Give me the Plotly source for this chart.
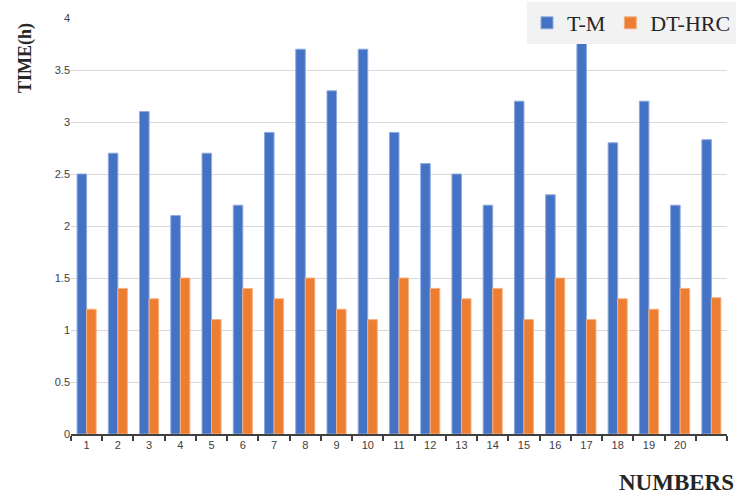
import plotly.graph_objects as go

numbers = list(range(1, 22))
tick_labels = [str(i) for i in range(1, 21)]
tm = [2.5, 2.7, 3.1, 2.1, 2.7, 2.2, 2.9, 3.7, 3.3, 3.7, 2.9, 2.6, 2.5, 2.2, 3.2, 2.3, 3.8, 2.8, 3.2, 2.2, 2.83]
dthrc = [1.2, 1.4, 1.3, 1.5, 1.1, 1.4, 1.3, 1.5, 1.2, 1.1, 1.5, 1.4, 1.3, 1.4, 1.1, 1.5, 1.1, 1.3, 1.2, 1.4, 1.31]

fig = go.Figure()
fig.add_trace(go.Bar(x=numbers, y=tm, name="T-M",
                     marker=dict(color="#4472C4", line=dict(color="#8eaadb", width=1))))
fig.add_trace(go.Bar(x=numbers, y=dthrc, name="DT-HRC",
                     marker=dict(color="#ED7D31", line=dict(color="#f4b183", width=1))))

fig.update_layout(
    width=736, height=494,
    margin=dict(l=71, r=9, t=18, b=60, autoexpand=False),
    plot_bgcolor="white", paper_bgcolor="white",
    barmode="group", bargap=0.39, bargroupgap=0,
    font=dict(family="Liberation Sans", size=11, color="#595959"),
    legend=dict(orientation="h", xref="container", x=1.0, xanchor="right",
                yref="container", y=(494 - 2) / 494, yanchor="top",
                bgcolor="#f2f2f2", font=dict(family="Liberation Serif", size=22, color="#262626"),
                itemwidth=30, traceorder="normal"),
    xaxis=dict(range=[0.5, 21.5], tickvals=list(range(1, 21)), ticktext=tick_labels,
               showgrid=False, showline=True, linecolor="#404040", linewidth=2,
               ticks="", zeroline=False,
               minor=dict(ticks="outside", tick0=0.5, dtick=1, ticklen=5, tickwidth=2,
                          tickcolor="#404040", showgrid=False),
               tickfont=dict(size=11, color="#404040")),
    yaxis=dict(range=[0, 4], dtick=0.5, showgrid=True, gridcolor="#d9d9d9", gridwidth=1,
               zeroline=False, showline=False, ticks="",
               tickfont=dict(size=11, color="#404040")),
)

fig.add_annotation(text="<b>TIME(h)</b>", xref="paper", yref="paper",
                   x=(25 - 71) / 656, y=(434 - 58) / 416, textangle=-90,
                   xanchor="center", yanchor="middle",
                   showarrow=False, font=dict(family="Liberation Serif", size=18, color="#262626"))
fig.add_annotation(text="<b>NUMBERS</b>", xref="paper", yref="paper",
                   x=(736 - 71) / 656, xanchor="right", y=(434 - 482) / 416, yanchor="middle",
                   showarrow=False, font=dict(family="Liberation Serif", size=23, color="#262626"))

fig.write_html("out.html", post_script="document.body.style.margin='0';",
               config={"displayModeBar": False})
